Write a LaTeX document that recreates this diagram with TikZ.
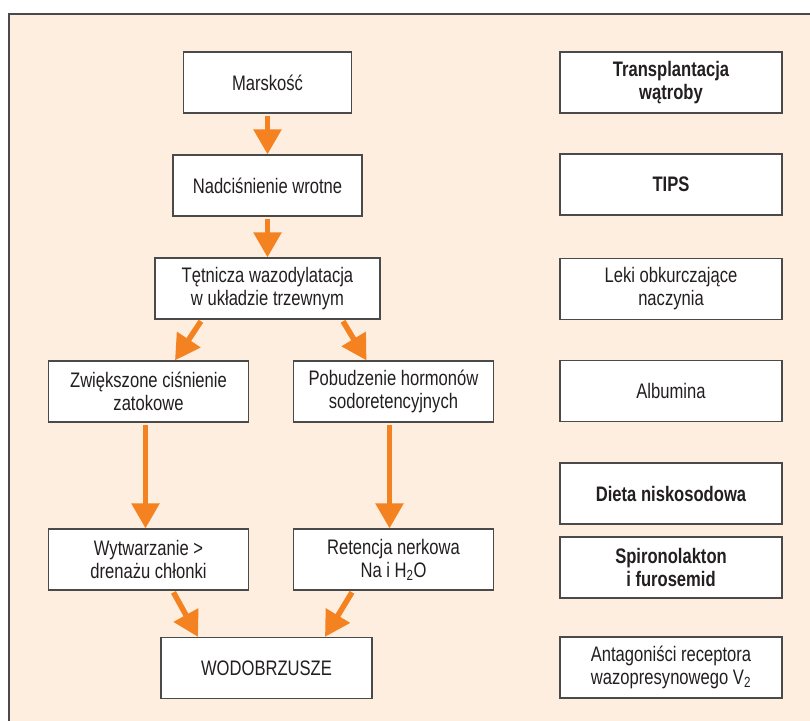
\documentclass[tikz,border=0pt]{standalone}
\usepackage{fontspec}
\setmainfont{Liberation Sans}[FakeStretch=0.79]
\usepackage{xcolor}
\usepackage{tikz}
\usetikzlibrary{arrows.meta,positioning,calc}
\definecolor{bgcream}{HTML}{FDEEDF}
\definecolor{arroworange}{HTML}{F58220}
\definecolor{boxline}{HTML}{4A4A4A}
\definecolor{textdark}{HTML}{231F20}

\begin{document}
\begin{tikzpicture}[
    x=1pt,
    y=1pt,
    node distance=103pt,
    box/.style={rectangle, draw=boxline, fill=white, line width=1.2pt, minimum height=61pt, align=center, inner sep=0pt, text=textdark, font=\fontsize{21}{23}\selectfont},
    cause/.style={box, minimum width=200pt},
    therapy/.style={box, minimum width=222pt},
    strong/.style={font=\fontsize{21}{23}\selectfont\bfseries},
    flow/.style={draw=arroworange, line width=5.5pt, -{Triangle[length=25pt,width=27pt]}, shorten <=2pt}
]
\useasboundingbox (0,0) rectangle (810,720);

% Background frame
\fill [bgcream] (9,706) rectangle (830,-20);
\draw [boxline, line width=1.5pt] (9,-20) |- (830,706);

% Start
\node [box, minimum width=168pt] (marskosc) at (267.5,637.5) {Marskość};

% Portal hypertension
\node [box, minimum width=189pt, below of=marskosc] (nadcisnienie) {Nadciśnienie wrotne};

% Splanchnic vasodilation
\node [box, minimum width=225pt, below of=nadcisnienie] (tetnicza) {Tętnicza wazodylatacja\\w układzie trzewnym};

% Two branches
\node [cause, below of=tetnicza, xshift=-119pt] (zwiekszone) {Zwiększone ciśnienie\\zatokowe};
\node [cause, below of=tetnicza, xshift=126pt] (pobudzenie) {Pobudzenie hormonów\\sodoretencyjnych};

\node [cause, below of=zwiekszone, yshift=-65pt] (wytwarzanie) {Wytwarzanie >\\drenażu chłonki};
\node [cause, below of=pobudzenie, yshift=-65pt] (retencja) {Retencja nerkowa\\Na i H\textsubscript{2}O};

% Result
\node [box, minimum width=211pt, below of=wytwarzanie, xshift=118pt, yshift=-5.5pt] (wodobrzusze) {WODOBRZUSZE};

% Treatment column
\node [therapy, strong] (transplantacja) at (671,637.5) {Transplantacja\\wątroby};
\node [therapy, strong, below of=transplantacja, yshift=1pt] (tips) {TIPS};
\node [therapy, below of=tips, yshift=-1.5pt] (leki) {Leki obkurczające\\naczynia};
\node [therapy, below of=leki, yshift=1pt] (albumina) {Albumina};
\node [therapy, strong, below of=albumina, yshift=0.5pt] (dieta) {Dieta niskosodowa};
\node [therapy, strong, below of=dieta, yshift=29pt] (spironolakton) {Spironolakton\\i furosemid};
\node [therapy, below of=spironolakton, yshift=3pt] (antagonisci) {Antagoniści receptora\\wazopresynowego V\textsubscript{2}};

% Connections
\draw [flow] (marskosc) -- (nadcisnienie);
\draw [flow] (nadcisnienie) -- (tetnicza);
\draw [flow] ([xshift=-65.5pt]tetnicza.south) -- ([xshift=26.5pt]zwiekszone.north);
\draw [flow] ([xshift=74.5pt]tetnicza.south) -- ([xshift=-27pt]pobudzenie.north);
\draw [flow] ([xshift=-3pt]zwiekszone.south) -- ([xshift=-3pt]wytwarzanie.north);
\draw [flow] ([xshift=-4pt]pobudzenie.south) -- ([xshift=-4pt]retencja.north);
\draw [flow] ([xshift=24pt]wytwarzanie.south) -- ([xshift=-68.5pt]wodobrzusze.north);
\draw [flow] ([xshift=-40.5pt]retencja.south) -- ([xshift=58.5pt]wodobrzusze.north);

\end{tikzpicture}
\end{document}
